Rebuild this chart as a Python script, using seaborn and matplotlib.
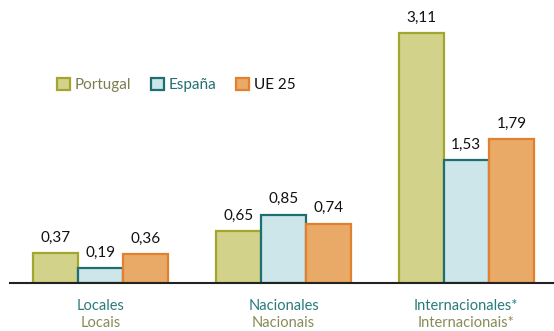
import matplotlib
matplotlib.use("Agg")
import matplotlib.pyplot as plt
from matplotlib.patches import Patch
import seaborn as sns
import pandas as pd

categories = ["Locales", "Nacionales", "Internacionales*"]
categories_pt = ["Locais", "Nacionais", "Internacionais*"]
series = ["Portugal", "España", "UE 25"]
portugal = [0.37, 0.65, 3.11]
espana = [0.19, 0.85, 1.53]
ue25 = [0.36, 0.74, 1.79]

fills = ["#d2d28a", "#cde6ea", "#e8aa66"]
edges = ["#a3a62e", "#1f6e72", "#e3802e"]
legend_text = ["#7d7d52", "#236f73", "#111111"]
cat_color_es = "#2b7b7b"
cat_color_pt = "#8a8a58"

rows = []
for name, vals in zip(series, [portugal, espana, ue25]):
    for cat, v in zip(categories, vals):
        rows.append({"categoria": cat, "serie": name, "valor": v})
df = pd.DataFrame(rows)

sns.set_theme(style="white")
plt.rcParams["font.family"] = ["Lato", "DejaVu Sans"]

fig = plt.figure(figsize=(5.54, 3.31), dpi=100)
ax = fig.add_axes([10 / 554, (331 - 283) / 331, 544 / 554, 283 / 331])

sns.barplot(data=df, x="categoria", y="valor", hue="serie", order=categories,
            hue_order=series, palette=fills, width=0.74, saturation=1,
            legend=False, ax=ax)

for container, ec, vals in zip(ax.containers, edges, [portugal, espana, ue25]):
    for bar in container:
        bar.set_edgecolor(ec)
        bar.set_linewidth(1.6)
    ax.bar_label(container, labels=[f"{v:.2f}".replace(".", ",") for v in vals],
                 padding=6, fontsize=11, color="#111111")

ax.set_xlim(-0.497, 2.48)
ax.set_ylim(0, 3.52)
ax.set_xticks([])
ax.set_yticks([])
ax.set_xlabel("")
ax.set_ylabel("")
for side in ["top", "right", "left"]:
    ax.spines[side].set_visible(False)
ax.spines["bottom"].set_color("#222222")
ax.spines["bottom"].set_linewidth(1.5)

trans = ax.get_xaxis_transform()
for i, (es, pt) in enumerate(zip(categories, categories_pt)):
    ax.text(i, -0.08, es, transform=trans, ha="center", va="center",
            fontsize=10.5, color=cat_color_es, clip_on=False)
    ax.text(i, -0.14, pt, transform=trans, ha="center", va="center",
            fontsize=10.5, color=cat_color_pt, clip_on=False)

handles = [Patch(facecolor=f, edgecolor=e, linewidth=1.6) for f, e in zip(fills, edges)]
leg = ax.legend(handles, series, ncol=3, frameon=False, loc="center left",
                bbox_to_anchor=(41 / 544, 1 - 85 / 283), borderaxespad=0,
                fontsize=11, handlelength=0.85, handleheight=0.85,
                handletextpad=0.3, columnspacing=1.3)
for t, c in zip(leg.get_texts(), legend_text):
    t.set_color(c)

fig.savefig("out.png", dpi=100)
